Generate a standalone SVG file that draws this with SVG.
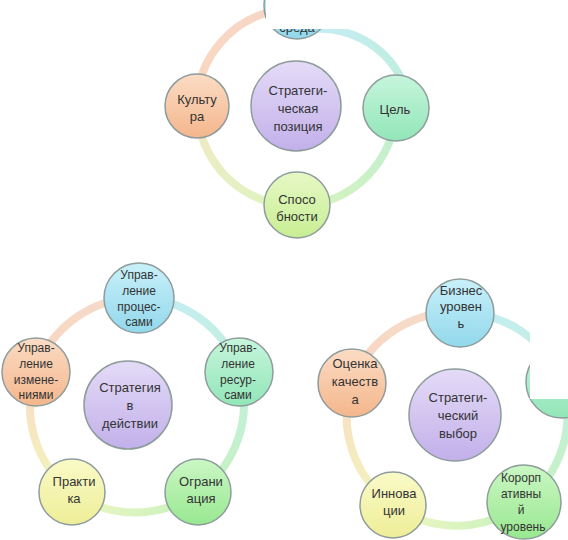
<svg xmlns="http://www.w3.org/2000/svg" width="568" height="540" viewBox="0 0 568 540">
<defs>
<linearGradient id="gCyan" x1="0" y1="0" x2="0" y2="1"><stop offset="0" stop-color="#c9f0f9"/><stop offset="1" stop-color="#92d8ec"/></linearGradient>
<linearGradient id="gTeal" x1="0" y1="0" x2="0" y2="1"><stop offset="0" stop-color="#c6f5dc"/><stop offset="1" stop-color="#92e6b8"/></linearGradient>
<linearGradient id="gGreen" x1="0" y1="0" x2="0" y2="1"><stop offset="0" stop-color="#cbf7c4"/><stop offset="1" stop-color="#98e890"/></linearGradient>
<linearGradient id="gLime" x1="0" y1="0" x2="0" y2="1"><stop offset="0" stop-color="#e6f8c4"/><stop offset="1" stop-color="#c8ee94"/></linearGradient>
<linearGradient id="gYellow" x1="0" y1="0" x2="0" y2="1"><stop offset="0" stop-color="#fafac8"/><stop offset="1" stop-color="#eeee98"/></linearGradient>
<linearGradient id="gOrange" x1="0" y1="0" x2="0" y2="1"><stop offset="0" stop-color="#fbdcc4"/><stop offset="1" stop-color="#f4b68c"/></linearGradient>
<linearGradient id="gPurple" x1="0" y1="0" x2="0" y2="1"><stop offset="0" stop-color="#e4dbf7"/><stop offset="1" stop-color="#c2b0ea"/></linearGradient>
<linearGradient id="r1" gradientUnits="userSpaceOnUse" x1="305" y1="30" x2="402" y2="80"><stop offset="0" stop-color="#c6ecf8"/><stop offset="1" stop-color="#bfeede"/></linearGradient>
<linearGradient id="r2" gradientUnits="userSpaceOnUse" x1="396" y1="108" x2="297" y2="206"><stop offset="0" stop-color="#bfeed4"/><stop offset="1" stop-color="#d8f4bc"/></linearGradient>
<linearGradient id="r3" gradientUnits="userSpaceOnUse" x1="297" y1="206" x2="197" y2="106"><stop offset="0" stop-color="#dcf6c0"/><stop offset="1" stop-color="#f3e8c4"/></linearGradient>
<linearGradient id="r4" gradientUnits="userSpaceOnUse" x1="197" y1="106" x2="280" y2="10"><stop offset="0" stop-color="#f9d8c0"/><stop offset="1" stop-color="#f8d6c8"/></linearGradient>
<linearGradient id="s1" gradientUnits="userSpaceOnUse" x1="139" y1="298" x2="239" y2="372"><stop offset="0" stop-color="#c6ecf8"/><stop offset="1" stop-color="#c2f0dc"/></linearGradient>
<linearGradient id="s2" gradientUnits="userSpaceOnUse" x1="239" y1="372" x2="198" y2="492"><stop offset="0" stop-color="#c2f0dc"/><stop offset="1" stop-color="#c6f2c0"/></linearGradient>
<linearGradient id="s3" gradientUnits="userSpaceOnUse" x1="198" y1="492" x2="72" y2="492"><stop offset="0" stop-color="#c6f2c0"/><stop offset="1" stop-color="#eef6c0"/></linearGradient>
<linearGradient id="s4" gradientUnits="userSpaceOnUse" x1="72" y1="492" x2="36" y2="372"><stop offset="0" stop-color="#f2f6bc"/><stop offset="1" stop-color="#f8dcc4"/></linearGradient>
<linearGradient id="s5" gradientUnits="userSpaceOnUse" x1="36" y1="372" x2="139" y2="298"><stop offset="0" stop-color="#f9d6c0"/><stop offset="1" stop-color="#f4dccc"/></linearGradient>
<linearGradient id="t1" gradientUnits="userSpaceOnUse" x1="460" y1="313" x2="562" y2="382"><stop offset="0" stop-color="#c6ecf8"/><stop offset="1" stop-color="#c2f0dc"/></linearGradient>
<linearGradient id="t2" gradientUnits="userSpaceOnUse" x1="562" y1="382" x2="524" y2="502"><stop offset="0" stop-color="#c2f0dc"/><stop offset="1" stop-color="#c6f2c0"/></linearGradient>
<linearGradient id="t3" gradientUnits="userSpaceOnUse" x1="524" y1="502" x2="393" y2="505"><stop offset="0" stop-color="#c6f2c0"/><stop offset="1" stop-color="#eef6c0"/></linearGradient>
<linearGradient id="t4" gradientUnits="userSpaceOnUse" x1="393" y1="505" x2="352" y2="383"><stop offset="0" stop-color="#f2f6bc"/><stop offset="1" stop-color="#f8dcc4"/></linearGradient>
<linearGradient id="t5" gradientUnits="userSpaceOnUse" x1="352" y1="383" x2="460" y2="313"><stop offset="0" stop-color="#f9d6c0"/><stop offset="1" stop-color="#f4dccc"/></linearGradient>
</defs>
<style>
.ring{fill:none;stroke-width:8}
.node{stroke:#8e9c9c;stroke-width:1.5}
text{font-family:"Liberation Sans",Arial,sans-serif;font-size:13px;fill:#333;text-anchor:middle}
.sm{font-size:12px}
</style>
<rect width="568" height="540" fill="#fff"/>

<g id="connectors">
<path class="ring" stroke="url(#r1)" d="M305 30 A91 91 0 0 1 402 80"/>
<path class="ring" stroke="url(#r2)" d="M396 108 A100 100 0 0 1 297 206"/>
<path class="ring" stroke="url(#r3)" d="M297 206 A100 100 0 0 1 197 106"/>
<path class="ring" stroke="url(#r4)" d="M197 106 A97 97 0 0 1 280 10"/>
<path class="ring" stroke="url(#s1)" d="M139 298 A107 107 0 0 1 239 372"/>
<path class="ring" stroke="url(#s2)" d="M239 372 A107 107 0 0 1 198 492"/>
<path class="ring" stroke="url(#s3)" d="M198 492 A107 107 0 0 1 72 492"/>
<path class="ring" stroke="url(#s4)" d="M72 492 A107 107 0 0 1 36 372"/>
<path class="ring" stroke="url(#s5)" d="M36 372 A107 107 0 0 1 139 298"/>
<path class="ring" stroke="url(#t1)" d="M460 313 A108 108 0 0 1 562 382"/>
<path class="ring" stroke="url(#t2)" d="M562 382 A108 108 0 0 1 524 502"/>
<path class="ring" stroke="url(#t3)" d="M524 502 A108 108 0 0 1 393 505"/>
<path class="ring" stroke="url(#t4)" d="M393 505 A108 108 0 0 1 352 383"/>
<path class="ring" stroke="url(#t5)" d="M352 383 A108 108 0 0 1 460 313"/>
</g>

<!-- Diagram 1 -->
<g id="d1-center"><circle class="node" cx="296" cy="106" r="45" fill="url(#gPurple)"/>
<text x="298" y="95">Стратеги-</text><text x="298" y="113">ческая</text><text x="298" y="131">позиция</text></g>
<g id="d1-top"><circle class="node" cx="297" cy="6" r="33" fill="url(#gCyan)"/>
<text x="297" y="32">среда</text></g>
<g id="d1-right"><circle class="node" cx="396" cy="108" r="33" fill="url(#gTeal)"/>
<text x="395" y="114">Цель</text></g>
<g id="d1-bottom"><circle class="node" cx="297" cy="205" r="33" fill="url(#gLime)"/>
<text x="297" y="204">Спосо</text><text x="297" y="221">бности</text></g>
<g id="d1-left"><circle class="node" cx="197" cy="106" r="32" fill="url(#gOrange)"/>
<text x="197" y="104">Культу</text><text x="197" y="121">ра</text></g>

<!-- Diagram 2 -->
<g id="d2-center"><circle class="node" cx="128" cy="405" r="44" fill="url(#gPurple)"/>
<text x="130" y="392">Стратегия</text><text x="130" y="410">в</text><text x="130" y="428">действии</text></g>
<g id="d2-top"><circle class="node" cx="139" cy="298" r="35" fill="url(#gCyan)"/>
<text class="sm" x="139" y="279">Управ-</text><text class="sm" x="139" y="295">ление</text><text class="sm" x="139" y="311">процес-</text><text class="sm" x="139" y="326">сами</text></g>
<g id="d2-right"><circle class="node" cx="239" cy="372" r="34" fill="url(#gTeal)"/>
<text class="sm" x="238" y="352">Управ-</text><text class="sm" x="238" y="368">ление</text><text class="sm" x="238" y="384">ресур-</text><text class="sm" x="238" y="399">сами</text></g>
<g id="d2-bottom-right"><circle class="node" cx="198" cy="492" r="33" fill="url(#gGreen)"/>
<text x="201" y="486">Ограни</text><text x="201" y="503">ация</text></g>
<g id="d2-bottom-left"><circle class="node" cx="72" cy="492" r="33" fill="url(#gYellow)"/>
<text x="74" y="486">Практи</text><text x="74" y="503">ка</text></g>
<g id="d2-left"><circle class="node" cx="36" cy="372" r="34" fill="url(#gOrange)"/>
<text class="sm" x="36" y="352">Управ-</text><text class="sm" x="36" y="368">ление</text><text class="sm" x="36" y="384">измене-</text><text class="sm" x="36" y="399">ниями</text></g>

<!-- Diagram 3 -->
<g id="d3-center"><circle class="node" cx="455" cy="415" r="46" fill="url(#gPurple)"/>
<text x="458" y="402">Стратеги-</text><text x="458" y="420">ческий</text><text x="458" y="438">выбор</text></g>
<g id="d3-top"><circle class="node" cx="460" cy="313" r="34" fill="url(#gCyan)"/>
<text x="461" y="295">Бизнес</text><text x="461" y="311">уровен</text><text x="461" y="328">ь</text></g>
<g id="d3-right"><circle class="node" cx="562" cy="382" r="36" fill="url(#gTeal)"/></g>
<g id="d3-bottom-right"><circle class="node" cx="524" cy="502" r="37" fill="url(#gGreen)"/>
<text class="sm" x="521" y="482">Корорп</text><text class="sm" x="521" y="498">ативны</text><text class="sm" x="521" y="514">й</text><text class="sm" x="523" y="531">уровень</text></g>
<g id="d3-bottom-left"><circle class="node" cx="393" cy="505" r="33" fill="url(#gYellow)"/>
<text x="394" y="498">Иннова</text><text x="394" y="515">ции</text></g>
<g id="d3-left"><circle class="node" cx="352" cy="383" r="34" fill="url(#gOrange)"/>
<text x="355" y="368">Оценка</text><text x="355" y="386">качеств</text><text x="355" y="404">а</text></g>

<rect x="266" y="0" width="302" height="29" fill="#fff"/>
<rect x="530" y="300" width="38" height="99" fill="#fff"/>
</svg>
